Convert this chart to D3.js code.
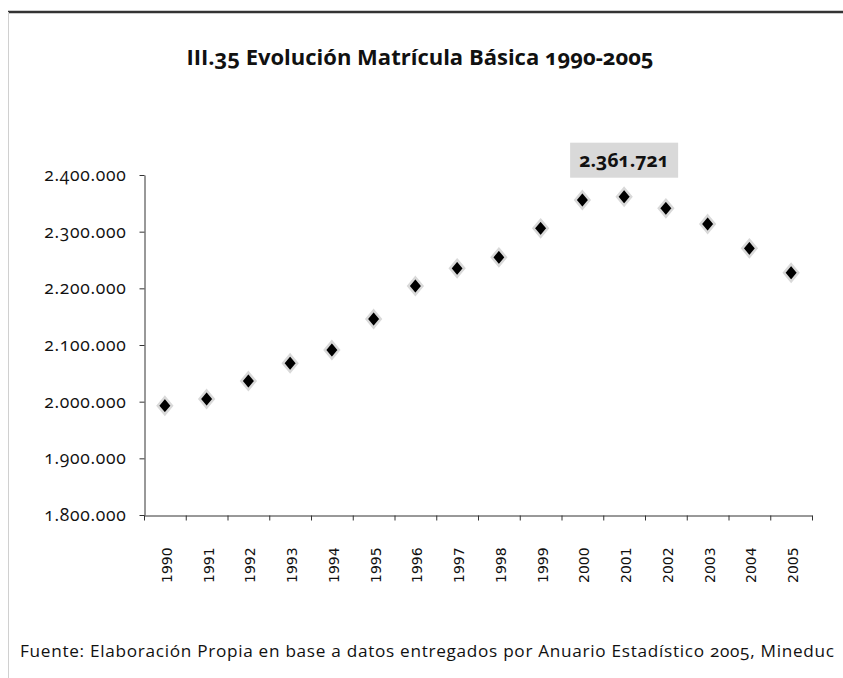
<!DOCTYPE html>
<html>
<head>
<meta charset="utf-8">
<script src="https://cdn.jsdelivr.net/npm/d3@7"></script>
<style>
  body { margin: 0; background: #fff; }
  svg { display: block; }
  .num { font-variant-numeric: oldstyle-nums; }
</style>
</head>
<body>
<div id="chart"></div>
<script>
// data
var years = ["1990", "1991", "1992", "1993", "1994", "1995", "1996", "1997",
             "1998", "1999", "2000", "2001", "2002", "2003", "2004", "2005"];
var matricula = [1992900, 2004700, 2036500, 2067700, 2091200, 2145900, 2204100, 2235300,
                 2254700, 2305900, 2355900, 2361721, 2341200, 2313500, 2270600, 2227600];
var yTicks = [1800000, 1900000, 2000000, 2100000, 2200000, 2300000, 2400000];
var peakLabel = "2.361.721";
var title = "III.35 Evolución Matrícula Básica 1990-2005";
var source = "Fuente: Elaboración Propia en base a datos entregados por Anuario Estadístico 2005, Mineduc";

var svgWidth = 843;
var svgHeight = 678;

var plot = { left: 144, right: 812, top: 175, bottom: 515 };

var svg = d3.select("#chart")
    .append("svg")
    .attr("width", svgWidth)
    .attr("height", svgHeight);

// frame: dark top rule, light left rule
svg.append("line")
    .attr("x1", 8).attr("x2", svgWidth)
    .attr("y1", 12).attr("y2", 12)
    .attr("stroke", "#333").attr("stroke-width", 2.5);
svg.append("line")
    .attr("x1", 8.5).attr("x2", 8.5)
    .attr("y1", 12).attr("y2", svgHeight)
    .attr("stroke", "#d0d0d0").attr("stroke-width", 1);

// title
svg.append("text")
    .attr("x", 420)
    .attr("y", 65)
    .attr("text-anchor", "middle")
    .attr("class", "num")
    .style("font-family", "'Open Sans', sans-serif")
    .style("font-weight", "bold")
    .style("font-size", "22px")
    .attr("fill", "#111")
    .text(title);

var x = d3.scaleBand()
    .domain(years)
    .range([plot.left, plot.right]);

// linear scale over category edges, for Excel-style ticks between categories
var xEdge = d3.scaleLinear()
    .domain([0, years.length])
    .range([plot.left, plot.right]);

var y = d3.scaleLinear()
    .domain([1800000, 2400000])
    .range([plot.bottom, plot.top]);

var fmt = function(d) { return d3.format(",")(d).replace(/,/g, "."); };

// y axis
var leftAxis = d3.axisLeft(y)
    .tickValues(yTicks)
    .tickSize(5)
    .tickSizeOuter(0)
    .tickPadding(13)
    .tickFormat(fmt);

var yG = svg.append("g")
    .attr("transform", "translate(" + (plot.left + 0.5) + ",0)")
    .call(leftAxis);
yG.select(".domain").attr("stroke", "#333");
yG.selectAll(".tick line").attr("stroke", "#333");
yG.selectAll(".tick text")
    .attr("class", "num")
    .style("font-family", "'Open Sans', sans-serif")
    .style("font-size", "17.5px")
    .style("letter-spacing", "0.7px")
    .attr("fill", "#111");

// x axis
var bottomAxis = d3.axisBottom(xEdge)
    .tickValues(d3.range(years.length + 1))
    .tickSize(5)
    .tickSizeOuter(0)
    .tickFormat("");

var xG = svg.append("g")
    .attr("transform", "translate(0," + (plot.bottom + 0.5) + ")")
    .call(bottomAxis);
xG.select(".domain").attr("stroke", "#333");
xG.selectAll(".tick line").attr("stroke", "#333");

// rotated year labels
svg.append("g").selectAll("text")
    .data(years)
    .enter()
    .append("text")
    .attr("transform", function(d) {
        return "translate(" + (x(d) + x.bandwidth() / 2 + 2) + ",583) rotate(-90)";
    })
    .attr("dy", "0.35em")
    .attr("text-anchor", "start")
    .style("font-family", "'DejaVu Sans', sans-serif")
    .style("font-size", "14px")
    .attr("fill", "#111")
    .text(function(d) { return d; });

// diamond markers
var diamond = {
    draw: function(context, size) {
        var w = Math.sqrt(size) / 2;
        var h = w * 1.2;
        context.moveTo(0, -h);
        context.lineTo(w, 0);
        context.lineTo(0, h);
        context.lineTo(-w, 0);
        context.closePath();
    }
};

svg.append("g").selectAll("path")
    .data(matricula)
    .enter()
    .append("path")
    .attr("d", d3.symbol().type(diamond).size(200))
    .attr("transform", function(d, i) {
        return "translate(" + (x(years[i]) + x.bandwidth() / 2) + "," + y(d) + ")";
    })
    .attr("fill", "#000")
    .attr("stroke", "#d9d9d9")
    .attr("stroke-width", 2.5);

// peak label
var peakIdx = matricula.indexOf(d3.max(matricula));
var px = x(years[peakIdx]) + x.bandwidth() / 2;
var py = y(matricula[peakIdx]);

var lbl = svg.append("g")
    .attr("transform", "translate(" + px + "," + (py - 19) + ")");
lbl.append("rect")
    .attr("x", -54)
    .attr("y", -35)
    .attr("width", 108)
    .attr("height", 35)
    .attr("fill", "#d9d9d9");
lbl.append("text")
    .attr("x", 0)
    .attr("y", -11)
    .attr("text-anchor", "middle")
    .attr("class", "num")
    .style("font-family", "'Open Sans', sans-serif")
    .style("font-weight", "bold")
    .style("font-size", "19.5px")
    .attr("fill", "#111")
    .text(peakLabel);

// source note
svg.append("text")
    .attr("x", 20)
    .attr("y", 657)
    .attr("class", "num")
    .style("font-family", "'Open Sans', sans-serif")
    .style("font-size", "17.2px")
    .style("letter-spacing", "0.7px")
    .attr("fill", "#111")
    .text(source);
</script>
</body>
</html>
